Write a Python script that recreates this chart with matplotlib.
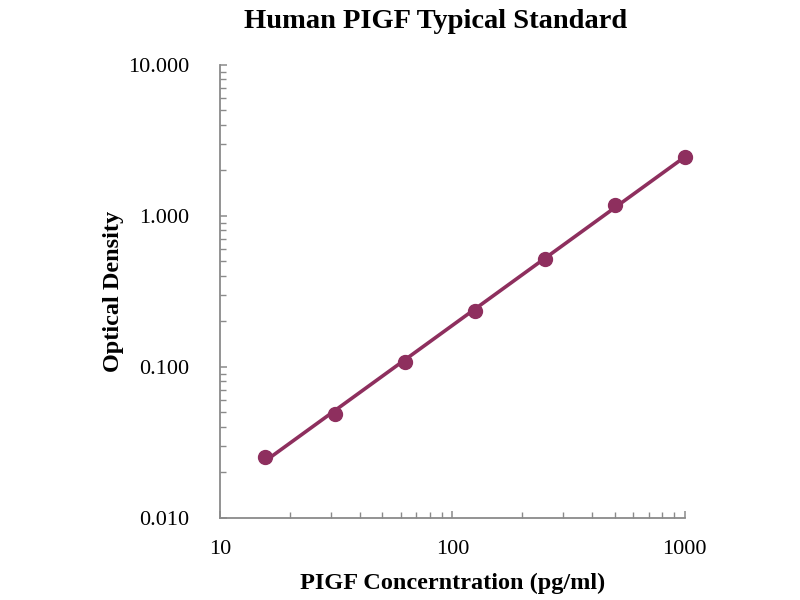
import numpy as np
import matplotlib.pyplot as plt
from matplotlib.ticker import FixedLocator, LogLocator, NullFormatter

plt.rcParams['font.family'] = ['Liberation Serif', 'DejaVu Serif']

# standard curve points
conc = [15.6, 31.25, 62.5, 125, 250, 500, 1000]
od = [0.0254, 0.0489, 0.108, 0.235, 0.519, 1.18, 2.46]

x_ticks = [10, 100, 1000]
y_ticks = [0.01, 0.1, 1, 10]
y_labels = ['0.010', '0.100', '1.000', '10.000']

color = '#8e2f5e'

# power trendline through the points (log-log fit)
k, b = np.polyfit(np.log10(conc), np.log10(od), 1)
x_fit = np.array([conc[0], conc[-1]])
y_fit = 10 ** (k * np.log10(x_fit) + b)

fig = plt.figure(figsize=(8, 6), dpi=100)
ax = fig.add_axes([0.275, 0.137, 0.581, 0.755])

ax.plot(x_fit, y_fit, color=color, lw=2.6, solid_capstyle='round')
ax.plot(conc, od, 'o', color=color, markersize=10, clip_on=False)

ax.set_xscale('log')
ax.set_yscale('log')
ax.set_xlim(10, 1000)
ax.set_ylim(0.01, 10)

ax.xaxis.set_major_locator(FixedLocator(x_ticks))
ax.set_xticklabels([str(v) for v in x_ticks])
ax.yaxis.set_major_locator(FixedLocator(y_ticks))
ax.set_yticklabels(y_labels)
ax.xaxis.set_minor_locator(LogLocator(base=10, subs=np.arange(2, 10)))
ax.yaxis.set_minor_locator(LogLocator(base=10, subs=np.arange(2, 10)))
ax.xaxis.set_minor_formatter(NullFormatter())
ax.yaxis.set_minor_formatter(NullFormatter())

for s in ['top', 'right']:
    ax.spines[s].set_visible(False)
for s in ['left', 'bottom']:
    ax.spines[s].set_color('#8a8a8a')
    ax.spines[s].set_linewidth(1.3)

ax.tick_params(which='major', direction='in', length=5, width=1.1, color='#8a8a8a',
               labelsize=16)
ax.tick_params(which='minor', direction='in', length=4, width=1.0, color='#8a8a8a')
ax.tick_params(axis='y', which='major', pad=22)
ax.tick_params(axis='x', which='major', pad=16)

ax.set_xlabel('PIGF Concerntration (pg/ml)', fontsize=17.5, fontweight='bold', labelpad=10)
ax.set_ylabel('Optical Density', fontsize=17.5, fontweight='bold', labelpad=3)
fig.suptitle('Human PIGF Typical Standard', fontsize=20.5, fontweight='bold', x=0.545, y=0.985)

fig.savefig('out.png', dpi=100)
